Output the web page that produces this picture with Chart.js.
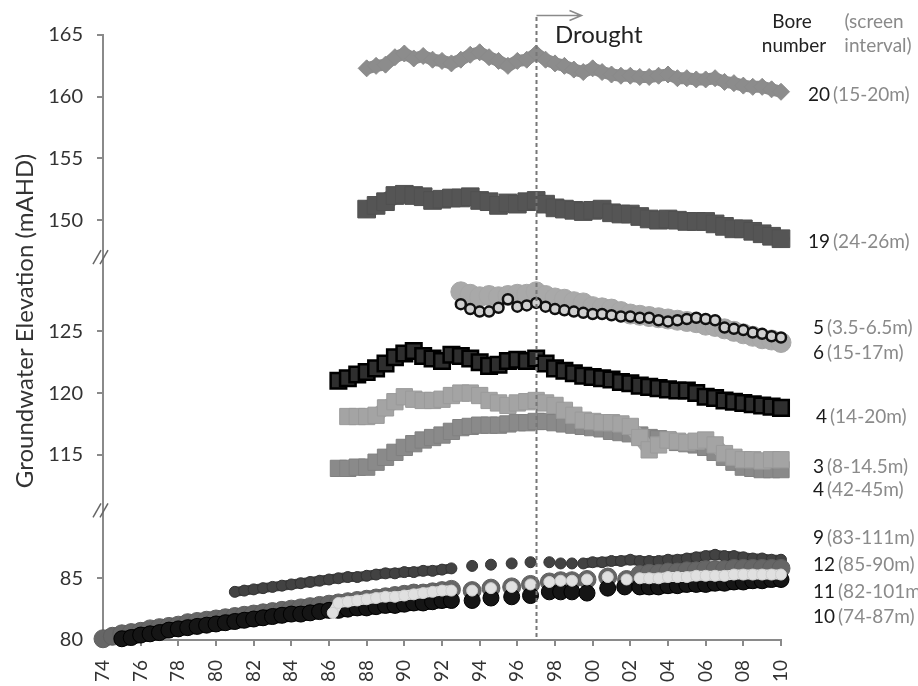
<!DOCTYPE html>
<html>
<head>
<meta charset="utf-8">
<script src="https://cdn.jsdelivr.net/npm/chart.js@4.4.1/dist/chart.umd.min.js"></script>
<style>
  html, body { margin: 0; padding: 0; background: #fff; }
  #wrap { width: 918px; height: 686px; }
</style>
</head>
<body>
<div id="wrap"><canvas id="chart" width="918" height="686"></canvas></div>
<script>
// Groundwater levels (mAHD), one pair of arrays per bore
const halfYears1988 = [1988, 1988.5, 1989, 1989.5, 1990, 1990.5, 1991, 1991.5, 1992, 1992.5,
    1993, 1993.5, 1994, 1994.5, 1995, 1995.5, 1996, 1996.5, 1997, 1997.5,
    1998, 1998.5, 1999, 1999.5, 2000, 2000.5, 2001, 2001.5, 2002, 2002.5,
    2003, 2003.5, 2004, 2004.5, 2005, 2005.5, 2006, 2006.5, 2007, 2007.5,
    2008, 2008.5, 2009, 2009.5, 2010];
const halfYears1993 = [1993, 1993.5, 1994, 1994.5, 1995, 1995.5, 1996, 1996.5, 1997, 1997.5,
    1998, 1998.5, 1999, 1999.5, 2000, 2000.5, 2001, 2001.5, 2002, 2002.5,
    2003, 2003.5, 2004, 2004.5, 2005, 2005.5, 2006, 2006.5, 2007, 2007.5,
    2008, 2008.5, 2009, 2009.5, 2010];
const halfYears1986 = [1986.5, 1987, 1987.5, 1988, 1988.5, 1989, 1989.5, 1990, 1990.5, 1991,
    1991.5, 1992, 1992.5, 1993, 1993.5, 1994, 1994.5, 1995, 1995.5, 1996,
    1996.5, 1997, 1997.5, 1998, 1998.5, 1999, 1999.5, 2000, 2000.5, 2001,
    2001.5, 2002, 2002.5, 2003, 2003.5, 2004, 2004.5, 2005, 2005.5, 2006,
    2006.5, 2007, 2007.5, 2008, 2008.5, 2009, 2009.5, 2010];
const halfYears1987 = [1987, 1987.5, 1988, 1988.5, 1989, 1989.5, 1990, 1990.5, 1991, 1991.5,
    1992, 1992.5, 1993, 1993.5, 1994, 1994.5, 1995, 1995.5, 1996, 1996.5,
    1997, 1997.5, 1998, 1998.5, 1999, 1999.5, 2000, 2000.5, 2001, 2001.5,
    2002, 2002.5, 2003, 2003.5, 2004, 2004.5, 2005, 2005.5, 2006, 2006.5,
    2007, 2007.5, 2008, 2008.5, 2009, 2009.5, 2010];

const bore20Levels = [162.3, 162.5, 162.6, 163.2, 163.5, 163.1, 163.3, 163.0, 162.9, 162.7,
    163.0, 163.4, 163.6, 163.2, 162.9, 162.5, 162.9, 163.0, 163.5, 163.0,
    162.7, 162.5, 162.2, 162.0, 162.3, 162.0, 161.8, 161.7, 161.7, 161.6,
    161.6, 161.7, 161.8, 161.5, 161.5, 161.4, 161.4, 161.5, 161.2, 161.1,
    160.9, 160.8, 160.8, 160.6, 160.4];
const bore19Levels = [150.9, 151.2, 151.5, 152.0, 152.1, 152.0, 151.9, 151.6, 151.7, 151.8,
    151.8, 151.9, 151.6, 151.5, 151.2, 151.4, 151.3, 151.5, 151.6, 151.3,
    151.0, 150.9, 150.8, 150.7, 150.8, 150.9, 150.6, 150.5, 150.5, 150.3,
    150.1, 150.0, 150.1, 150.0, 149.9, 149.9, 149.9, 149.7, 149.5, 149.3,
    149.3, 149.1, 148.9, 148.7, 148.5];
const bore6Levels = [128.2, 128.0, 127.8, 127.9, 127.8, 127.9, 128.0, 128.0, 128.2, 127.9,
    127.7, 127.6, 127.4, 127.3, 127.0, 126.9, 126.8, 126.6, 126.4, 126.3,
    126.2, 126.1, 126.0, 125.9, 125.8, 125.7, 125.5, 125.4, 125.2, 125.0,
    124.8, 124.6, 124.4, 124.3, 124.1];
const bore5Levels = [127.2, 126.8, 126.6, 126.6, 126.9, 127.6, 127.0, 127.1, 127.3, 127.0,
    126.8, 126.7, 126.6, 126.5, 126.4, 126.4, 126.3, 126.2, 126.2, 126.1,
    126.1, 125.9, 125.8, 125.9, 126.0, 126.1, 126.0, 125.9, 125.3, 125.2,
    125.1, 124.9, 124.8, 124.6, 124.5];
const bore4ShallowLevels = [121.0, 121.2, 121.5, 121.7, 122.0, 122.4, 122.9, 123.2, 123.4, 123.0,
    122.8, 122.6, 123.1, 123.0, 122.8, 122.5, 122.2, 122.3, 122.6, 122.7,
    122.6, 122.8, 122.4, 122.0, 121.8, 121.6, 121.4, 121.3, 121.2, 121.1,
    120.9, 120.8, 120.6, 120.5, 120.4, 120.3, 120.2, 120.2, 120.0, 119.7,
    119.6, 119.4, 119.3, 119.2, 119.1, 119.0, 118.9, 118.8];
const bore3Levels = [118.1, 118.1, 118.1, 118.2, 118.8, 119.3, 119.7, 119.5, 119.4, 119.4,
    119.5, 119.8, 120.0, 120.0, 119.8, 119.4, 119.2, 119.0, 119.2, 119.3,
    119.4, 119.2, 119.0, 118.6, 118.2, 117.8, 117.7, 117.6, 117.6, 117.5,
    117.3, 116.4, 115.4, 115.8, 116.2, 116.1, 116.0, 116.1, 116.2, 115.8,
    115.1, 114.8, 114.6, 114.6, 114.5, 114.6, 114.6];
const bore4DeepLevels = [113.9, 113.9, 114.0, 114.0, 114.4, 114.8, 115.2, 115.6, 115.9, 116.2,
    116.4, 116.6, 116.9, 117.2, 117.3, 117.4, 117.4, 117.4, 117.5, 117.6,
    117.6, 117.7, 117.7, 117.6, 117.5, 117.4, 117.3, 117.2, 117.1, 116.9,
    116.8, 116.7, 116.6, 116.4, 116.3, 116.2, 116.0, 115.9, 115.8, 115.6,
    115.2, 114.8, 114.4, 114.0, 113.9, 113.8, 113.8, 113.8];

// deep bores: dense records with a sparse stretch in the 1990s
const bore9Years = [1981, 1981.5, 1982, 1982.5, 1983, 1983.5, 1984, 1984.5, 1985, 1985.5,
    1986, 1986.5, 1987, 1987.5, 1988, 1988.5, 1989, 1989.5, 1990, 1990.5,
    1991, 1991.5, 1992, 1992.5,
    1993.6, 1994.6, 1995.7, 1996.7, 1997.7, 1998.3, 1998.9,
    1999.5, 2000, 2000.5, 2001, 2001.5, 2002, 2002.5, 2003, 2003.5, 2004,
    2004.5, 2005, 2005.5, 2006, 2006.5, 2007, 2007.5, 2008, 2008.5, 2009,
    2009.5, 2010];
const bore9Levels = [83.9, 84.0, 84.1, 84.2, 84.3, 84.4, 84.5, 84.6, 84.7, 84.8,
    84.9, 85.0, 85.1, 85.1, 85.2, 85.3, 85.4, 85.4, 85.5, 85.5,
    85.6, 85.6, 85.7, 85.8,
    86.0, 86.1, 86.2, 86.3, 86.3, 86.2, 86.2,
    86.2, 86.3, 86.3, 86.4, 86.4, 86.5, 86.4, 86.4, 86.4, 86.5,
    86.5, 86.6, 86.7, 86.8, 86.9, 86.8, 86.8, 86.7, 86.6, 86.6,
    86.5, 86.5];

const bore12Years = [1974, 1974.5, 1975, 1975.5, 1976, 1976.5, 1977, 1977.5, 1978, 1978.5,
    1979, 1979.5, 1980, 1980.5, 1981, 1981.5, 1982, 1982.5, 1983, 1983.5,
    1984, 1984.5, 1985, 1985.5, 1986, 1986.5, 1987, 1987.5, 1988, 1988.5,
    1989, 1989.5, 1990, 1990.5, 1991, 1991.5, 1992, 1992.5,
    1993.6, 1994.6, 1995.7, 1996.7, 1997.7, 1998.3, 1998.9, 1999.7, 2000.8, 2001.8,
    2002.5, 2003, 2003.5, 2004, 2004.5, 2005, 2005.5, 2006, 2006.5, 2007,
    2007.5, 2008, 2008.5, 2009, 2009.5, 2010];
const bore12Levels = [80.1, 80.3, 80.5, 80.6, 80.7, 80.9, 81.0, 81.1, 81.2, 81.4,
    81.5, 81.6, 81.7, 81.8, 81.9, 82.0, 82.1, 82.2, 82.3, 82.4,
    82.5, 82.6, 82.7, 82.8, 82.9, 83.0, 83.1, 83.2, 83.3, 83.4,
    83.5, 83.6, 83.7, 83.8, 83.8, 83.9, 84.0, 84.1,
    84.0, 84.2, 84.3, 84.5, 84.7, 84.8, 84.8, 84.9, 85.1, 84.9,
    85.3, 85.4, 85.4, 85.5, 85.5, 85.6, 85.6, 85.7, 85.7, 85.7,
    85.8, 85.8, 85.8, 85.8, 85.8, 85.8];

const bore11Years = [1986.2, 1986.5, 1987, 1987.5, 1988, 1988.5, 1989, 1989.5, 1990, 1990.5,
    1991, 1991.5, 1992, 1992.5,
    1993.6, 1994.6, 1995.7, 1996.7, 1997.7, 1998.3, 1998.9, 1999.7, 2000.8, 2001.8,
    2002.5, 2003, 2003.5, 2004, 2004.5, 2005, 2005.5, 2006, 2006.5, 2007,
    2007.5, 2008, 2008.5, 2009, 2009.5, 2010];
const bore11Levels = [82.2, 83.0, 83.1, 83.2, 83.3, 83.4, 83.5, 83.5, 83.6, 83.7,
    83.8, 83.9, 84.0, 84.0,
    84.0, 84.2, 84.3, 84.5, 84.7, 84.8, 84.8, 84.9, 85.1, 84.9,
    85.0, 85.0, 85.0, 85.1, 85.1, 85.1, 85.2, 85.2, 85.2, 85.2,
    85.3, 85.3, 85.3, 85.3, 85.3, 85.3];

const bore10Years = [1975, 1975.5, 1976, 1976.5, 1977, 1977.5, 1978, 1978.5, 1979, 1979.5,
    1980, 1980.5, 1981, 1981.5, 1982, 1982.5, 1983, 1983.5, 1984, 1984.5,
    1985, 1985.5, 1986, 1986.5, 1987, 1987.5, 1988, 1988.5, 1989, 1989.5,
    1990, 1990.5, 1991, 1991.5, 1992, 1992.5,
    1993.6, 1994.6, 1995.7, 1996.7, 1997.7, 1998.3, 1998.9, 1999.7, 2000.8, 2001.7,
    2002.5, 2003, 2003.5, 2004, 2004.5, 2005, 2005.5, 2006, 2006.5, 2007,
    2007.5, 2008, 2008.5, 2009, 2009.5, 2010];
const bore10Levels = [80.1, 80.2, 80.4, 80.5, 80.6, 80.8, 80.9, 81.0, 81.1, 81.2,
    81.3, 81.4, 81.5, 81.6, 81.7, 81.8, 81.9, 82.0, 82.1, 82.1,
    82.2, 82.3, 82.4, 82.4, 82.5, 82.6, 82.6, 82.7, 82.8, 82.8,
    82.9, 83.0, 83.0, 83.1, 83.2, 83.2,
    83.2, 83.4, 83.5, 83.6, 83.9, 83.9, 83.9, 83.8, 84.2, 84.3,
    84.3, 84.3, 84.3, 84.4, 84.4, 84.5, 84.5, 84.5, 84.6, 84.6,
    84.7, 84.7, 84.8, 84.8, 84.9, 84.9];

const tickLevels = [80, 85, 115, 120, 125, 150, 155, 160, 165];
const boreNumbers = ['20', '19', '5', '6', '4', '3', '4', '9', '12', '11', '10'];
const screenIntervals = ['(15-20m)', '(24-26m)', '(3.5-6.5m)', '(15-17m)', '(14-20m)', '(8-14.5m)',
    '(42-45m)', '(83-111m)', '(85-90m)', '(82-101m)', '(74-87m)'];
const droughtYear = 1997;

// broken y axis: each band of elevations is shifted onto one continuous scale
function toAxis(level) {
    if (level < 100) return level - 80;
    if (level < 140) return level - 100;
    return level - 116;
}
function fromAxis(v) {
    if (v <= 10.5) return Math.round(v + 80);
    if (v <= 31) return Math.round(v + 100);
    return Math.round(v + 116);
}

function points(years, levels) {
    return years.map((yr, i) => ({ x: yr, y: toAxis(levels[i]) }));
}

// no connecting band across the sparse (roughly yearly) readings
const gapSegment = {
    borderColor: ctx => (ctx.p1.parsed.x - ctx.p0.parsed.x > 0.55 ? 'rgba(0,0,0,0)' : undefined)
};

function series(data, style) {
    return Object.assign({
        data: data,
        showLine: true,
        clip: false,
        borderCapStyle: 'round',
        borderJoinStyle: 'round',
        pointBorderWidth: 1,
        segment: gapSegment
    }, style);
}

const datasets = [
    series(points(halfYears1993, bore5Levels), { pointStyle: 'circle', pointRadius: 5, pointBorderWidth: 2.5,
        pointBorderColor: '#111', pointBackgroundColor: '#cfcfcf', borderColor: '#111', borderWidth: 3 }),
    series(points(halfYears1993, bore6Levels), { pointStyle: 'circle', pointRadius: 10,
        pointBorderColor: '#a6a6a6', pointBackgroundColor: '#a9a9a9', borderColor: '#a9a9a9', borderWidth: 16 }),
    series(points(halfYears1986, bore4ShallowLevels), { pointStyle: 'rect', pointRadius: 11, pointBorderWidth: 2.5,
        pointBorderColor: '#000', pointBackgroundColor: '#2e2e2e', borderColor: '#111', borderWidth: 13 }),
    series(points(halfYears1987, bore3Levels), { pointStyle: 'rect', pointRadius: 11.5,
        pointBorderColor: '#9a9a9a', pointBackgroundColor: '#a4a4a4', borderColor: '#a4a4a4', borderWidth: 14 }),
    series(points(halfYears1986, bore4DeepLevels), { pointStyle: 'rect', pointRadius: 11.5,
        pointBorderColor: '#808080', pointBackgroundColor: '#8a8a8a', borderColor: '#8a8a8a', borderWidth: 14 }),
    series(points(halfYears1988, bore20Levels), { pointStyle: 'rectRot', pointRadius: 8.5,
        pointBorderColor: '#8a8a8a', pointBackgroundColor: '#8c8c8c', borderColor: '#8c8c8c', borderWidth: 12 }),
    series(points(halfYears1988, bore19Levels), { pointStyle: 'rect', pointRadius: 12.5,
        pointBorderColor: '#505050', pointBackgroundColor: '#555', borderColor: '#555', borderWidth: 17 }),
    series(points(bore11Years, bore11Levels), { pointStyle: 'circle', pointRadius: 5.5,
        pointBorderColor: '#cfcfcf', pointBackgroundColor: '#e0e0e0', borderColor: '#e0e0e0', borderWidth: 10 }),
    series(points(bore10Years, bore10Levels), { pointStyle: 'circle', pointRadius: 8,
        pointBorderColor: '#000', pointBackgroundColor: '#151515', borderColor: '#151515', borderWidth: 15 }),
    series(points(bore12Years, bore12Levels), { pointStyle: 'circle', pointRadius: 9,
        pointBorderColor: '#5e5e5e', pointBackgroundColor: '#666', borderColor: '#666', borderWidth: 16 }),
    series(points(bore9Years, bore9Levels), { pointStyle: 'circle', pointRadius: 5.5,
        pointBorderColor: '#333', pointBackgroundColor: '#424242', borderColor: '#424242', borderWidth: 10 })
];

const fontFamily = 'Lato, "Open Sans", sans-serif';
Chart.defaults.font.family = fontFamily;
Chart.defaults.color = '#333';

// drought marker, axis title, axis breaks and the bore labels on the right
const overlay = {
    id: 'overlay',
    afterDatasetsDraw(chart) {
        const { ctx, chartArea, scales: { x } } = chart;
        const xd = Math.round(x.getPixelForValue(droughtYear)) + 0.5;
        ctx.save();
        ctx.strokeStyle = '#777';
        ctx.lineWidth = 2;
        ctx.setLineDash([4, 3]);
        ctx.beginPath();
        ctx.moveTo(xd, 17);
        ctx.lineTo(xd, chartArea.bottom);
        ctx.stroke();
        ctx.setLineDash([]);
        ctx.lineWidth = 1.5;
        ctx.strokeStyle = '#8a8a8a';
        ctx.beginPath();
        ctx.moveTo(xd, 15.5);
        ctx.lineTo(xd + 45, 15.5);
        ctx.moveTo(xd + 33, 10.5);
        ctx.lineTo(xd + 45, 15.5);
        ctx.lineTo(xd + 33, 20.5);
        ctx.stroke();

        ctx.fillStyle = '#222';
        ctx.font = '24px ' + fontFamily;
        ctx.textAlign = 'left';
        ctx.textBaseline = 'middle';
        ctx.fillText('Drought', 555, 35);
        ctx.restore();
    },
    afterDraw(chart) {
        const { ctx, scales: { y } } = chart;
        const left = y.right;
        ctx.save();
        ctx.strokeStyle = '#666';
        ctx.lineWidth = 1.5;
        [10.5, 31].forEach(b => {
            const py = y.getPixelForValue(b);
            [-6, 1].forEach(dx => {
                ctx.beginPath();
                ctx.moveTo(left + dx - 4, py + 7);
                ctx.lineTo(left + dx + 4, py - 7);
                ctx.stroke();
            });
        });

        ctx.save();
        ctx.translate(25, 321);
        ctx.rotate(-Math.PI / 2);
        ctx.textAlign = 'center';
        ctx.textBaseline = 'middle';
        ctx.font = '24px ' + fontFamily;
        ctx.fillStyle = '#333';
        ctx.fillText('Groundwater Elevation (mAHD)', 0, 0);
        ctx.restore();

        ctx.textBaseline = 'middle';
        ctx.textAlign = 'center';
        ctx.font = '19px ' + fontFamily;
        ctx.fillStyle = '#222';
        ctx.fillText('Bore', 792, 22);
        ctx.fillText('number', 794, 46);
        ctx.fillStyle = '#8a8a8a';
        ctx.fillText('(screen', 874, 22);
        ctx.fillText('interval)', 878, 46);

        const rows = [[808, 95], [808, 242], [813, 328], [813, 353], [816, 417], [813, 467],
            [813, 490], [813, 538], [813, 565], [813, 592], [813, 617]];
        ctx.textAlign = 'left';
        ctx.font = '19px ' + fontFamily;
        boreNumbers.forEach((num, i) => {
            const [lx, ly] = rows[i];
            ctx.fillStyle = '#1a1a1a';
            ctx.fillText(num, lx, ly);
            const w = ctx.measureText(num).width;
            ctx.fillStyle = '#8a8a8a';
            ctx.fillText(screenIntervals[i], lx + w + 3, ly);
        });
        ctx.restore();
    }
};

new Chart(document.getElementById('chart'), {
    type: 'scatter',
    data: { datasets: datasets },
    options: {
        responsive: false,
        animation: false,
        events: [],
        layout: { padding: { top: 35, right: 137, bottom: 0, left: 0 } },
        plugins: { legend: { display: false }, tooltip: { enabled: false } },
        scales: {
            x: {
                type: 'linear',
                min: 1974,
                max: 2010,
                afterFit: s => { s.height = 46; },
                border: { color: '#8a8a8a', width: 2 },
                grid: { drawOnChartArea: false, color: '#8a8a8a', lineWidth: 2, tickLength: 6 },
                ticks: {
                    stepSize: 2,
                    autoSkip: false,
                    minRotation: 90,
                    maxRotation: 90,
                    padding: 14,
                    color: '#333',
                    font: { size: 19 },
                    callback: v => String(v % 100).padStart(2, '0')
                }
            },
            y: {
                type: 'linear',
                min: 0,
                max: 49,
                afterFit: s => { s.width = 103; },
                afterBuildTicks: s => { s.ticks = tickLevels.map(l => ({ value: toAxis(l) })); },
                border: { color: '#8a8a8a', width: 2 },
                grid: { drawOnChartArea: false, color: '#8a8a8a', lineWidth: 2, tickLength: 6 },
                ticks: {
                    padding: 14,
                    color: '#333',
                    font: { size: 20 },
                    callback: v => fromAxis(v)
                }
            }
        }
    },
    plugins: [overlay]
});
</script>
</body>
</html>
